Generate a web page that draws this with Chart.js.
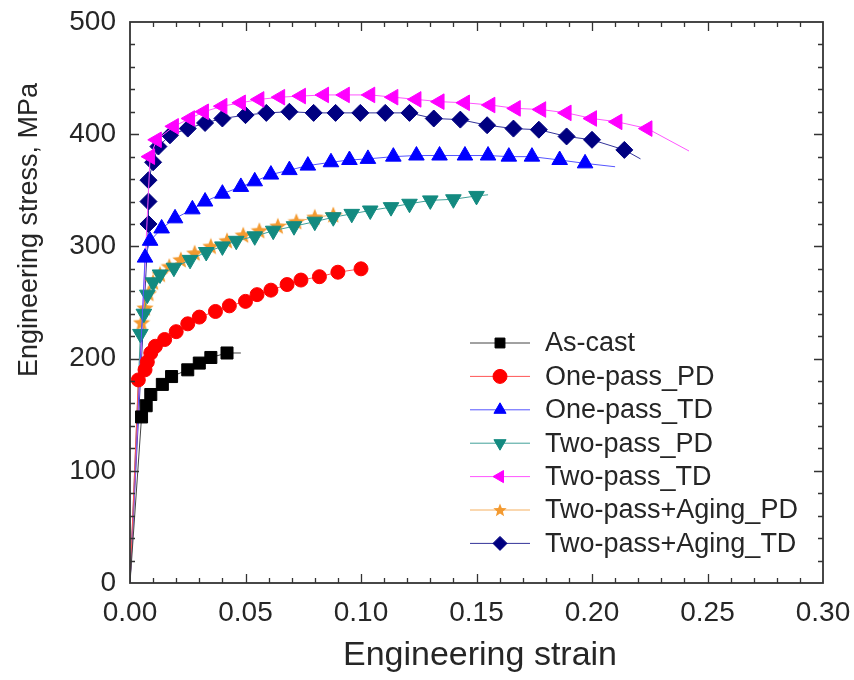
<!DOCTYPE html>
<html>
<head>
<meta charset="utf-8">
<script src="https://cdn.jsdelivr.net/npm/chart.js@4.4.1/dist/chart.umd.min.js"></script>
<style>
  html, body { margin: 0; padding: 0; background: #fff; }
  #wrap { width: 854px; height: 680px; }
</style>
</head>
<body>
<div id="wrap"><canvas id="stressChart" width="854" height="680"></canvas></div>
<script>
// strain / stress, first point is the origin (no marker)
const asCastStrain = [0, 0.005, 0.007, 0.009, 0.014, 0.018, 0.025, 0.030, 0.035, 0.042, 0.048];
const asCastStress = [0, 148, 158, 168, 177, 184, 190, 196, 201, 205, 205];

const onePassPDStrain = [0, 0.0036, 0.0065, 0.0075, 0.009, 0.011, 0.015, 0.020, 0.025, 0.030, 0.037, 0.043, 0.050, 0.055, 0.061, 0.068, 0.074, 0.082, 0.090, 0.100];
const onePassPDStress = [0, 181, 190, 197, 205, 211, 217, 224, 231, 237, 242, 247, 251, 257, 261, 266, 270, 273, 277, 280];

const onePassTDStrain = [0, 0.0065, 0.0087, 0.0137, 0.0195, 0.027, 0.0325, 0.040, 0.048, 0.054, 0.061, 0.069, 0.077, 0.087, 0.095, 0.103, 0.114, 0.124, 0.134, 0.145, 0.155, 0.164, 0.174, 0.186, 0.197, 0.210];
const onePassTDStress = [0, 290, 305, 316, 325, 333, 340, 347, 353, 358, 364, 368, 372, 375, 377, 378, 380, 381, 381, 381, 381, 380, 380, 377, 374, 371];

const twoPassPDStrain = [0, 0.0045, 0.006, 0.0075, 0.010, 0.013, 0.019, 0.026, 0.033, 0.040, 0.046, 0.054, 0.062, 0.071, 0.080, 0.088, 0.096, 0.104, 0.113, 0.121, 0.130, 0.140, 0.150, 0.155];
const twoPassPDStress = [0, 222, 240, 257, 268, 275, 281, 288, 295, 300, 305, 309, 314, 318, 322, 326, 329, 332, 335, 338, 341, 342, 345, 346];

const twoPassTDStrain = [0, 0.0087, 0.0116, 0.019, 0.026, 0.032, 0.040, 0.048, 0.056, 0.065, 0.074, 0.084, 0.093, 0.104, 0.114, 0.124, 0.134, 0.145, 0.156, 0.167, 0.178, 0.189, 0.200, 0.211, 0.224, 0.242];
const twoPassTDStress = [0, 380, 395, 407, 414, 420, 425, 428, 431, 433, 434, 435, 435, 435, 433, 431, 429, 428, 426, 423, 422, 419, 414, 411, 405, 385];

const agingPDStrain = [0, 0.005, 0.0065, 0.008, 0.010, 0.013, 0.017, 0.022, 0.028, 0.035, 0.042, 0.049, 0.056, 0.064, 0.072, 0.080, 0.088, 0.092];
const agingPDStress = [0, 232, 245, 258, 268, 275, 282, 288, 294, 300, 305, 310, 314, 318, 322, 326, 328, 329];

const agingTDStrain = [0, 0.008, 0.008, 0.008, 0.010, 0.0123, 0.0173, 0.025, 0.0325, 0.040, 0.050, 0.059, 0.069, 0.0795, 0.089, 0.0997, 0.1105, 0.121, 0.1315, 0.143, 0.1546, 0.166, 0.177, 0.189, 0.200, 0.214, 0.221];
const agingTDStress = [0, 320, 340, 359, 375, 389, 399, 405, 410, 414, 417, 419, 420, 419, 419, 419, 419, 419, 414, 413, 408, 405, 404, 398, 395, 386, 378];

const xTicks = [0, 0.05, 0.10, 0.15, 0.20, 0.25, 0.30];
const yTicks = [0, 100, 200, 300, 400, 500];
const xTitle = "Engineering strain";
const yTitle = "Engineering stress, MPa";

const FONT = "'Liberation Sans', Arial, sans-serif";
const TEXT = "#262626";

// filled 5-point star used as a marker
function makeStar(size, color) {
  const c = document.createElement("canvas");
  c.width = size;
  c.height = size;
  const g = c.getContext("2d");
  const cx = size / 2, cy = size / 2 + 0.5, ro = size / 2, ri = size / 4.6;
  g.beginPath();
  for (let i = 0; i < 10; i++) {
    const r = i % 2 ? ri : ro;
    const a = -Math.PI / 2 + (i * Math.PI) / 5;
    g.lineTo(cx + r * Math.cos(a), cy + r * Math.sin(a));
  }
  g.closePath();
  g.fillStyle = color;
  g.fill();
  return c;
}

const starMarker = makeStar(18, "#f39a30");
const starLegend = makeStar(14, "#f39a30");

function makeSeries(label, xs, ys, color, lineColor, style, radius, rotation, tail) {
  const last = xs.length - 1;
  return {
    label,
    data: xs.map((x, i) => ({ x, y: ys[i] })),
    borderColor: lineColor,
    borderWidth: 1,
    backgroundColor: color,
    pointBackgroundColor: color,
    pointBorderColor: color,
    pointBorderWidth: 1,
    pointStyle: style,
    pointRotation: rotation,
    pointRadius: (ctx) => (ctx.dataIndex === 0 || (tail && ctx.dataIndex === last) ? 0 : radius),
    tension: 0,
    fill: false,
  };
}

const datasets = [
  makeSeries("As-cast", asCastStrain, asCastStress, "#000000", "#444444", "rect", 8.5, 0, true),
  makeSeries("One-pass_PD", onePassPDStrain, onePassPDStress, "#ff0000", "#ff5555", "circle", 7, 0, false),
  makeSeries("One-pass_TD", onePassTDStrain, onePassTDStress, "#0000ff", "#5555ff", "triangle", 9, 0, true),
  makeSeries("Two-pass_PD", twoPassPDStrain, twoPassPDStress, "#138a80", "#40a098", "triangle", 9, 180, true),
  makeSeries("Two-pass_TD", twoPassTDStrain, twoPassTDStress, "#ff00ff", "#ff55ff", "triangle", 9, -90, true),
  makeSeries("Two-pass+Aging_PD", agingPDStrain, agingPDStress, "#f39a30", "#f5b060", starMarker, 9, 0, true),
  makeSeries("Two-pass+Aging_TD", agingTDStrain, agingTDStress, "#000080", "#333399", "rectRot", 8.5, 0, true),
];

// box around the plot with inward major/minor ticks on all four sides, plus axis titles
const frameTicks = {
  id: "frameTicks",
  afterDraw(chart) {
    const { ctx, chartArea: a, scales } = chart;
    const xs = scales.x, ys = scales.y;
    ctx.save();
    ctx.strokeStyle = "#333";
    ctx.lineWidth = 1.8;
    ctx.strokeRect(a.left, a.top, a.right - a.left, a.bottom - a.top);
    ctx.beginPath();
    for (let i = 1; i < 30; i++) {
      const px = Math.round(xs.getPixelForValue(i * 0.01)) + 0.5;
      const len = i % 5 === 0 ? 9 : 5;
      ctx.moveTo(px, a.bottom); ctx.lineTo(px, a.bottom - len);
      ctx.moveTo(px, a.top); ctx.lineTo(px, a.top + len);
    }
    for (let i = 1; i < 25; i++) {
      const py = Math.round(ys.getPixelForValue(i * 20)) + 0.5;
      const len = i % 5 === 0 ? 9 : 5;
      ctx.moveTo(a.left, py); ctx.lineTo(a.left + len, py);
      ctx.moveTo(a.right, py); ctx.lineTo(a.right - len, py);
    }
    ctx.lineWidth = 1.3;
    ctx.stroke();

    ctx.fillStyle = TEXT;
    ctx.textAlign = "center";
    ctx.textBaseline = "middle";
    ctx.font = "34px " + FONT;
    ctx.fillText(xTitle, 480, 656);
    ctx.translate(30, 230);
    ctx.rotate(-Math.PI / 2);
    ctx.font = "27px " + FONT;
    ctx.fillText(yTitle, 0, 0);
    ctx.restore();
  },
};

// legend inside the plot, lower right
const insideLegend = {
  id: "insideLegend",
  afterDraw(chart) {
    const { ctx } = chart;
    const x0 = 470, x1 = 530, textX = 545, top = 343, step = 33.4;
    ctx.save();
    chart.data.datasets.forEach((ds, i) => {
      const y = top + i * step;
      ctx.strokeStyle = ds.borderColor;
      ctx.lineWidth = 1;
      ctx.beginPath();
      ctx.moveTo(x0, y);
      ctx.lineTo(x1, y);
      ctx.stroke();
      ctx.fillStyle = ds.pointBackgroundColor;
      ctx.strokeStyle = ds.pointBorderColor;
      ctx.lineWidth = 1;
      const style = ds.pointStyle === starMarker ? starLegend : ds.pointStyle;
      Chart.helpers.drawPoint(ctx, { pointStyle: style, rotation: ds.pointRotation, radius: 7, borderWidth: 1 }, (x0 + x1) / 2, y);
      ctx.fillStyle = TEXT;
      ctx.font = "27px " + FONT;
      ctx.textAlign = "left";
      ctx.textBaseline = "middle";
      ctx.fillText(ds.label, textX, y + 1);
    });
    ctx.restore();
  },
};

new Chart(document.getElementById("stressChart").getContext("2d"), {
  type: "line",
  data: { datasets },
  plugins: [frameTicks, insideLegend],
  options: {
    responsive: false,
    animation: false,
    layout: { padding: { top: 22, right: 31, left: 0, bottom: 0 } },
    plugins: { legend: { display: false }, tooltip: { enabled: false } },
    scales: {
      x: {
        type: "linear",
        min: 0,
        max: 0.3,
        afterBuildTicks: (s) => { s.ticks = xTicks.map((v) => ({ value: v })); },
        afterFit: (s) => {
          s.height = 97;
          s.paddingLeft = 0;
          s.paddingRight = 0;
        },
        grid: { display: false, drawTicks: false },
        border: { display: false },
        ticks: {
          padding: 13,
          color: TEXT,
          font: { family: FONT, size: 28 },
          callback: (v) => Number(v).toFixed(2),
        },
      },
      y: {
        type: "linear",
        min: 0,
        max: 500,
        afterBuildTicks: (s) => { s.ticks = yTicks.map((v) => ({ value: v })); },
        afterFit: (s) => {
          s.width = 130;
          s.paddingTop = 0;
          s.paddingBottom = 0;
        },
        grid: { display: false, drawTicks: false },
        border: { display: false },
        ticks: {
          padding: 14,
          color: TEXT,
          font: { family: FONT, size: 28 },
        },
      },
    },
  },
});
</script>
</body>
</html>
